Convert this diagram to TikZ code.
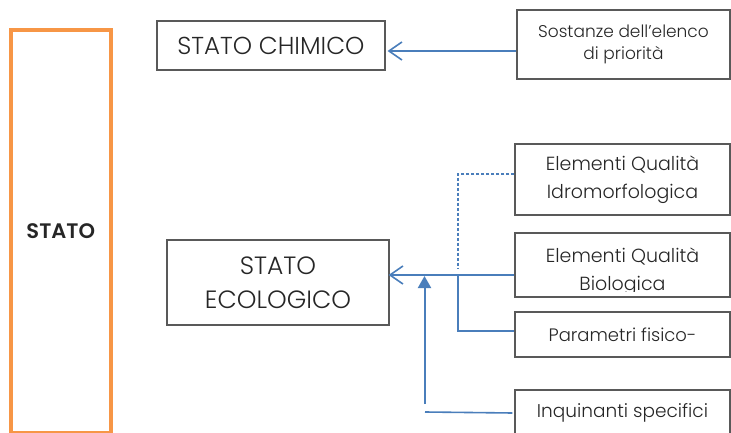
\documentclass[tikz,border=0pt]{standalone}
\usepackage{fontspec}
\IfFontExistsTF{Poppins Light}{\setmainfont{Poppins Light}[BoldFont=Poppins SemiBold]}{\setmainfont{Poppins}}
\usetikzlibrary{arrows.meta}
\definecolor{lineblue}{HTML}{4A7EBB}
\definecolor{boxgray}{HTML}{595959}
\definecolor{statoorange}{HTML}{F79646}
\definecolor{txtgray}{HTML}{262626}
\begin{document}
\begin{tikzpicture}[x=1pt,y=-1pt,
  box/.style={draw=boxgray, line width=1.1pt, inner sep=0pt, align=center, text=txtgray},
  conn/.style={draw=lineblue, line width=2pt},
  thinconn/.style={draw=lineblue, line width=1.2pt},
  barb/.style={-{Straight Barb[length=13pt,width=18pt,line width=1.6pt]}},
  uptip/.style={-{Triangle[length=12pt,width=13pt]}},
  fchim/.style={font=\fontsize{24.5}{34}\selectfont},
  feco/.style={font=\fontsize{25}{34}\selectfont},
  fmid/.style={font=\fontsize{19}{28}\selectfont},
  fsost/.style={font=\fontsize{17}{22}\selectfont},
  fpar/.style={font=\fontsize{18}{22}\selectfont},
  finq/.style={font=\fontsize{18.5}{22}\selectfont}]
\useasboundingbox (0,0) rectangle (731,433);
% orange STATO box
\node[draw=statoorange, line width=4pt, minimum width=99.5pt, minimum height=403pt,
      inner sep=0pt, font=\bfseries\fontsize{21}{24}\selectfont, text=txtgray]
      (stato) at (60.75,231.5) {STATO};
% boxes
\node[box, fchim, minimum width=228pt, minimum height=49pt] (chim) at (271,45.5) {STATO CHIMICO};
\node[box, fsost, minimum width=213pt, minimum height=69pt] (sost) at (623.5,44.5) {Sostanze dell'elenco\\di priorità};
\node[box, fmid, minimum width=215pt, minimum height=71pt] (idro) at (622.5,179.5) {Elementi Qualità\\Idromorfologica};
\node[box, minimum width=215pt, minimum height=64pt] (bio) at (622.5,265) {};
\begin{scope}
  \clip (515,233) rectangle (730,291);
  \node[fmid, align=center, text=txtgray, anchor=base] (biotxt) at (622.5,290) {Elementi Qualità\\Biologica};
\end{scope}
\node[box, fpar, minimum width=215pt, minimum height=45pt] (par) at (622.5,334.5) {Parametri fisico-};
\node[box, finq, minimum width=215pt, minimum height=45pt] (inq) at (622.5,412.5) {Inquinanti specifici};
\node[box, feco, minimum width=222pt, minimum height=85pt] (eco) at (278,282.5) {STATO\\ECOLOGICO};
% junction coordinates
\coordinate (jx) at (458,275);
\coordinate (upbot) at (424.5,404);
\coordinate (uptop) at (424.5,276);
\coordinate (inqend) at (425,412);
% connectors
\draw[conn, barb] ([yshift=-6.5pt]sost.west) -- ([yshift=-6.5pt,xshift=2pt]sost.west -| chim.east);
\draw[conn, barb] ([yshift=-10pt]bio.west) -- ([yshift=-10pt,xshift=-1pt]bio.west -| eco.east);
\draw[thinconn, dash pattern=on 3pt off 2pt] ([yshift=5.5pt]idro.west) -| ([yshift=6pt]jx);
\draw[thinconn] (jx) |- ([yshift=3.5pt]par.west);
\draw[conn, line width=1.6pt] ([yshift=-0.5pt,xshift=-2pt]inq.west) -- (inqend);
\draw[conn, uptip] (upbot) -- (uptop);
\end{tikzpicture}
\end{document}
